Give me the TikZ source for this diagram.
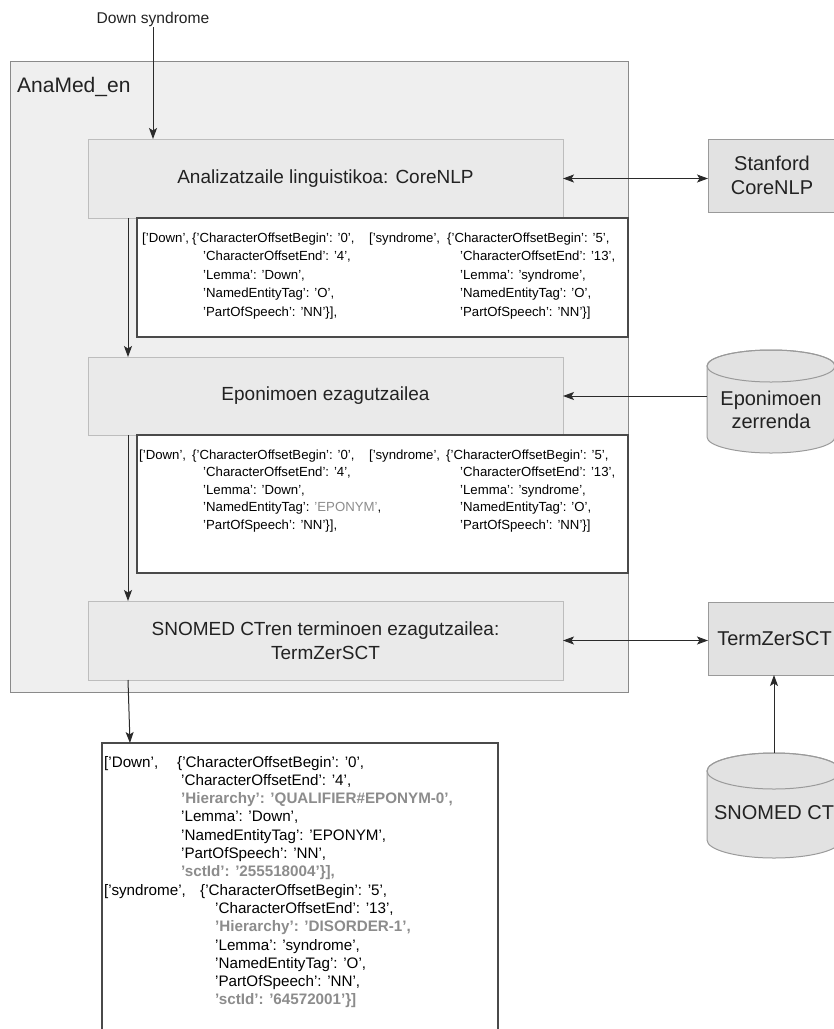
\documentclass[tikz,border=0pt]{standalone}
\usepackage{fontspec}
\setmainfont{Liberation Sans}
\usetikzlibrary{arrows.meta}
\definecolor{outerfill}{HTML}{EFEFEF}
\definecolor{outerline}{HTML}{8A8A8A}
\definecolor{procfill}{HTML}{EAEAEA}
\definecolor{procline}{HTML}{BDBDBD}
\definecolor{extfill}{HTML}{E2E2E2}
\definecolor{extline}{HTML}{9A9A9A}
\definecolor{dataline}{HTML}{4A4A4A}
\definecolor{arrcol}{HTML}{2A2A2A}
\definecolor{hlgray}{HTML}{8C8C8C}
\definecolor{txt}{HTML}{222222}
\newcommand\hlt[1]{\textcolor{hlgray}{\bfseries #1}}
\newcommand\gryt[1]{\textcolor{hlgray}{#1}}
\newcommand\colt[1]{\begin{tabular}[t]{@{}l@{}}#1\end{tabular}}
\begin{document}
\begin{tikzpicture}[x=1pt,y=1pt,
  outerbox/.style={draw=outerline, fill=outerfill, line width=1pt, outer sep=0pt, inner sep=0pt},
  procbox/.style={draw=procline, fill=procfill, line width=1pt, outer sep=0pt, text=txt, font=\fontsize{19}{24}\selectfont, align=center},
  extbox/.style={draw=extline, fill=extfill, line width=1pt, outer sep=0pt, text=txt, font=\fontsize{20}{24}\selectfont, align=center},
  databox/.style={draw=dataline, fill=white, line width=1.5pt, outer sep=0pt, inner sep=0pt},
  cylshell/.style={inner sep=0pt, outer sep=0pt},
  cylfill/.style={fill=extfill, draw=extline, line width=1pt},
  dtA/.style={anchor=base west, inner sep=0pt, text=black, font=\fontsize{13.2}{18.5}\selectfont},
  dtB/.style={anchor=base west, inner sep=0pt, text=black, font=\fontsize{13.2}{17.6}\selectfont},
  dtC/.style={anchor=base west, inner sep=0pt, text=black, font=\fontsize{15.2}{18.3}\selectfont},
  arr/.style={draw=arrcol, line width=1pt, -{Stealth[length=11pt,width=8pt,inset=2.5pt]}},
  darr/.style={draw=arrcol, line width=1pt, {Stealth[length=11pt,width=8pt,inset=2.5pt]}-{Stealth[length=11pt,width=8pt,inset=2.5pt]}}
]
\useasboundingbox (0,0) rectangle (834,-1029);

% outer system box
\node[outerbox, anchor=north west, minimum width=618, minimum height=631] (ana) at (10,-61) {};
\node[anchor=base west, inner sep=0pt, text=txt, font=\fontsize{21}{24}\selectfont] (anal) at (17,-92) {AnaMed\_en};

% input text
\node[anchor=base, inner sep=1pt, text=txt, font=\fontsize{15.6}{18}\selectfont] (ds) at (153,-23) {Down syndrome};

% process boxes
\node[procbox, anchor=north west, minimum width=475, minimum height=79] (core) at (88,-139) {Analizatzaile linguistikoa: CoreNLP};
\node[procbox, anchor=north west, minimum width=475, minimum height=78] (epon) at (88,-357) {Eponimoen ezagutzailea};
\node[procbox, anchor=north west, minimum width=475, minimum height=79] (snom) at (88,-601) {SNOMED CTren terminoen ezagutzailea:\\TermZerSCT};

% data boxes
\node[databox, anchor=north west, minimum width=491, minimum height=119] (d1) at (137,-218) {};
\node[databox, anchor=north west, minimum width=491, minimum height=138] (d2) at (137,-435) {};
\node[databox, anchor=north west, minimum width=396, minimum height=300] (d3) at (102,-743) {};

% data box 1 text
\node[dtA] (d1a) at (142,-242) {['Down',};
\node[dtA] (d1b) at (192,-242) {\{'CharacterOffsetBegin': '0',};
\node[dtA] (d1c) at (203,-260.5) {\colt{'CharacterOffsetEnd': '4',\\'Lemma': 'Down',\\'NamedEntityTag': 'O',\\'PartOfSpeech': 'NN'\}],}};
\node[dtA] (d1d) at (369,-242) {['syndrome',};
\node[dtA] (d1e) at (447,-242) {\{'CharacterOffsetBegin': '5',};
\node[dtA] (d1f) at (460,-260.5) {\colt{'CharacterOffsetEnd': '13',\\'Lemma': 'syndrome',\\'NamedEntityTag': 'O',\\'PartOfSpeech': 'NN'\}]}};

% data box 2 text
\node[dtB] (d2a) at (139,-459) {['Down',};
\node[dtB] (d2b) at (192,-459) {\{'CharacterOffsetBegin': '0',};
\node[dtB] (d2c) at (203,-476.6) {\colt{'CharacterOffsetEnd': '4',\\'Lemma': 'Down',\\'NamedEntityTag': \gryt{'EPONYM'},\\'PartOfSpeech': 'NN'\}],}};
\node[dtB] (d2d) at (369,-459) {['syndrome',};
\node[dtB] (d2e) at (446,-459) {\{'CharacterOffsetBegin': '5',};
\node[dtB] (d2f) at (460,-476.6) {\colt{'CharacterOffsetEnd': '13',\\'Lemma': 'syndrome',\\'NamedEntityTag': 'O',\\'PartOfSpeech': 'NN'\}]}};

% data box 3 text
\node[dtC] (d3a) at (104,-767) {['Down',};
\node[dtC] (d3b) at (177,-767) {\{'CharacterOffsetBegin': '0',};
\node[dtC] (d3c) at (181,-785.3) {\colt{'CharacterOffsetEnd': '4',\\\hlt{'Hierarchy': 'QUALIFIER\#EPONYM-0',}\\'Lemma': 'Down',\\'NamedEntityTag': 'EPONYM',\\'PartOfSpeech': 'NN',\\\hlt{'sctId': '255518004'\}],}}};
\node[dtC] (d3d) at (104,-895.1) {['syndrome',};
\node[dtC] (d3e) at (200,-895.1) {\{'CharacterOffsetBegin': '5',};
\node[dtC] (d3f) at (215,-913.4) {\colt{'CharacterOffsetEnd': '13',\\\hlt{'Hierarchy': 'DISORDER-1',}\\'Lemma': 'syndrome',\\'NamedEntityTag': 'O',\\'PartOfSpeech': 'NN',\\\hlt{'sctId': '64572001'\}]}}};

% external resources
\node[extbox, anchor=north west, minimum width=128, minimum height=73] (stan) at (708,-139) {Stanford\\CoreNLP};
\node[extbox, anchor=north west, minimum width=133, minimum height=73] (termz) at (708,-602) {TermZerSCT};

% cylinder: Eponimoen zerrenda
\path[cylfill] (707,-366) -- (707,-437) arc[start angle=180,end angle=360,x radius=64,y radius=16] -- (835,-366) arc[start angle=0,end angle=180,x radius=64,y radius=16] -- cycle;
\draw[extline, line width=1pt] (771,-366) ellipse[x radius=64, y radius=16];
\node[cylshell, minimum width=128, minimum height=103] (epz) at (771,-401.5) {};
\node[inner sep=0pt, text=txt, font=\fontsize{20}{23}\selectfont, align=center] (epzt) at (771,-410) {Eponimoen\\zerrenda};

% cylinder: SNOMED CT
\path[cylfill] (707,-771) -- (707,-840) arc[start angle=180,end angle=360,x radius=67,y radius=18] -- (841,-771) arc[start angle=0,end angle=180,x radius=67,y radius=18] -- cycle;
\draw[extline, line width=1pt] (774,-771) ellipse[x radius=67, y radius=18];
\node[cylshell, minimum width=134, minimum height=105] (sct) at (774,-805.5) {};
\node[inner sep=0pt, text=txt, font=\fontsize{20}{23}\selectfont] (sctt) at (774,-813) {SNOMED CT};

% connectors
\draw[arr] (ds.south) -- (ds.south |- core.north);
\draw[arr] ([xshift=40]core.south west) -- ([xshift=40]epon.north west);
\draw[arr] ([xshift=40]epon.south west) -- ([xshift=40]snom.north west);
\draw[arr] ([xshift=40]snom.south west) -- ([xshift=28]d3.north west);
\draw[darr] (core.east) -- (stan.west |- core.east);
\draw[arr] (epz.west |- epon.east) -- (epon.east);
\draw[darr] (snom.east) -- (termz.west |- snom.east);
\draw[arr] (sct.north) -- (sct.north |- termz.south);
\end{tikzpicture}
\end{document}
